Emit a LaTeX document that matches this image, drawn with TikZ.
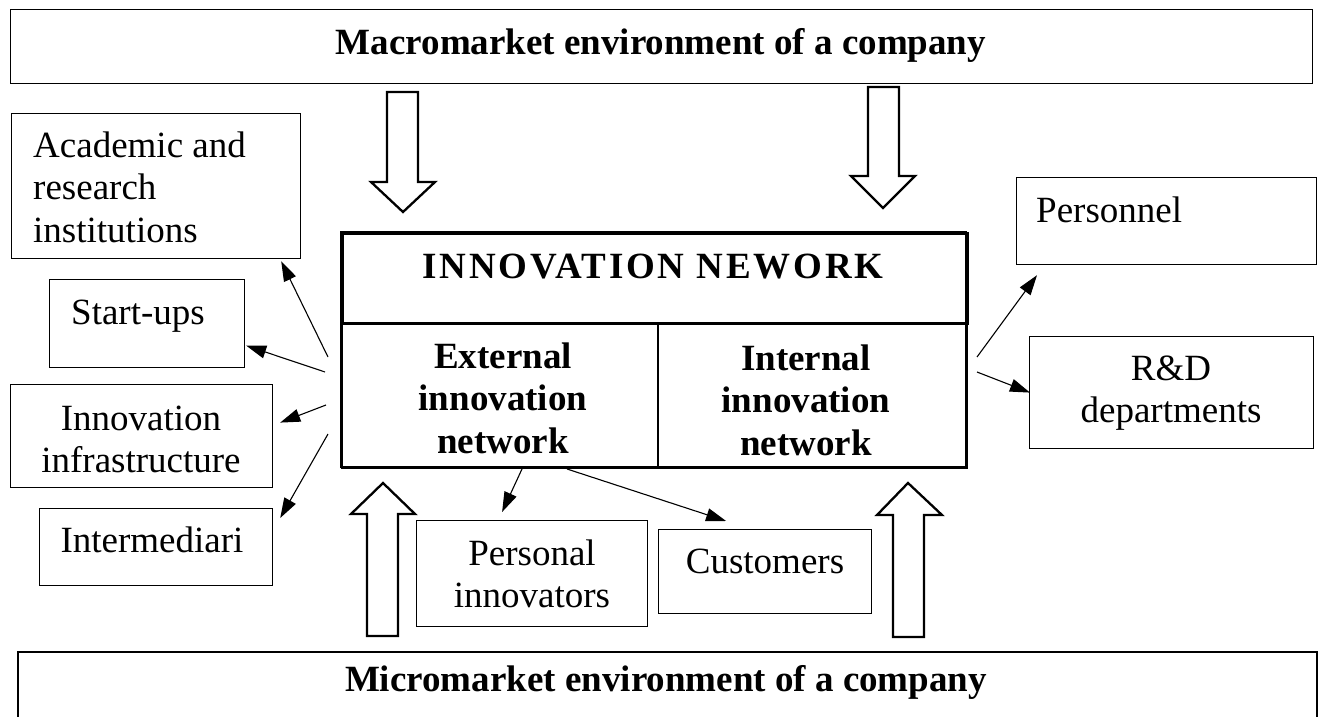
\documentclass[tikz,border=0pt]{standalone}
\usepackage{fontspec}
\setmainfont{Liberation Serif}
\usetikzlibrary{arrows.meta}
\begin{document}
\begin{tikzpicture}[x=1pt,y=-1pt,
  box/.style={draw, line width=1.2pt, inner sep=0pt, anchor=north west},
  thickbox/.style={draw, line width=2.6pt, inner sep=0pt, anchor=north west},
  txt/.style={inner sep=0pt, anchor=base, font=\fontsize{37}{42.5}\selectfont},
  txtl/.style={txt, anchor=base west},
  bold/.style={font=\fontsize{37}{42.5}\selectfont\bfseries},
  conn/.style={line width=1.1pt, -{Triangle[length=20pt,width=13pt]}},
  blockarrow/.style={draw, line width=2.3pt, line join=miter, fill=white}
]
\useasboundingbox (0,0) rectangle (1322,717);

% environment boxes
\node[box, minimum width=1302pt, minimum height=74pt] (macro) at (10,9) {};
\node[txt, bold] (macrot) at (661,55) {Macromarket environment of a company};
\draw[line width=1.2pt] (18,719) -- (18,652) -- (1317,652) -- (1317,719);
\node[txt, bold] (microt) at (666,691) {Micromarket environment of a company};

% block arrows
\draw[blockarrow] (387,92) -- (418,92) -- (418,182) -- (435,182) -- (403,212) -- (371,182) -- (387,182) -- cycle;
\draw[blockarrow] (868,87) -- (899,87) -- (899,176) -- (915,176) -- (883,208) -- (851,176) -- (868,176) -- cycle;
\draw[blockarrow] (367,636) -- (398,636) -- (398,514) -- (415,514) -- (383,483) -- (351,514) -- (367,514) -- cycle;
\draw[blockarrow] (893,637) -- (924,637) -- (924,515) -- (942,515) -- (908,483) -- (877,515) -- (893,515) -- cycle;

% innovation network
\node[thickbox, minimum width=625pt, minimum height=90pt] (net) at (341,232) {};
\node[thickbox, line width=2pt, minimum width=316pt, minimum height=145pt] (ext) at (341,322) {};
\node[thickbox, line width=2pt, minimum width=309pt, minimum height=145pt] (intn) at (657,322) {};
\draw[line width=2.6pt] (341,232) rectangle (966,467);
\node[txt, bold] (nett) at (653,278) {\addfontfeature{LetterSpace=7.5}INNOVATION NEWORK};
\node[txt, bold] (extt) at (503,368) {\begin{tabular}[t]{@{}c@{}}External\\innovation\\network\end{tabular}};
\node[txt, bold] (intt) at (806,370) {\begin{tabular}[t]{@{}c@{}}Internal\\innovation\\network\end{tabular}};

% left boxes
\node[box, minimum width=289pt, minimum height=145pt] (acad) at (11,113) {};
\node[txtl] (acadt) at (33,157) {\begin{tabular}[t]{@{}l@{}}Academic and\\research\\institutions\end{tabular}};
\node[box, minimum width=195pt, minimum height=88pt] (su) at (49,279) {};
\node[txtl] (sut) at (71,324) {Start-ups};
\node[box, minimum width=262pt, minimum height=103pt] (infra) at (10,384) {};
\node[txt] (infrat) at (141,430) {\begin{tabular}[t]{@{}c@{}}Innovation\\infrastructure\end{tabular}};
\node[box, minimum width=233pt, minimum height=77pt] (interm) at (39,508) {};
\node[txt] (intermt) at (152,552) {Intermediari};

% right boxes
\node[box, minimum width=300pt, minimum height=87pt] (pers) at (1016,177) {};
\node[txtl] (perst) at (1036,222) {Personnel};
\node[box, minimum width=284pt, minimum height=112pt] (rd) at (1029,336) {};
\node[txt] (rdt) at (1171,380) {\begin{tabular}[t]{@{}c@{}}R\&D\\departments\end{tabular}};

% bottom boxes
\node[box, minimum width=231pt, minimum height=106pt] (pi) at (416,520) {};
\node[txt] (pit) at (532,565) {\begin{tabular}[t]{@{}c@{}}Personal\\innovators\end{tabular}};
\node[box, minimum width=213pt, minimum height=84pt] (cust) at (658,529) {};
\node[txt] (custt) at (765,573) {Customers};

% connector start points
\coordinate (s1) at ([xshift=-13pt,yshift=38.5pt]ext.west);
\coordinate (s2) at ([xshift=-16pt,yshift=23.5pt]ext.west);
\coordinate (s3) at ([xshift=-15pt,yshift=-9.5pt]ext.west);
\coordinate (s4) at ([xshift=-13pt,yshift=-38.5pt]ext.west);
\coordinate (s5) at ([xshift=9pt,yshift=38.5pt]intn.east);
\coordinate (s6) at ([xshift=9pt,yshift=23.5pt]intn.east);
\coordinate (s7) at ([xshift=22pt]ext.south);
\coordinate (s8) at ([xshift=67pt]ext.south);

\draw[conn] (s1) -- ([xshift=-20pt,yshift=-2pt]acad.south east);
\draw[conn] (s2) -- ([xshift=1pt,yshift=-22pt]su.east);
\draw[conn] (s3) -- ([xshift=7pt,yshift=13.5pt]infra.east);
\draw[conn] (s4) -- ([xshift=7pt,yshift=-10pt]interm.north east);
\draw[conn] (s5) -- ([xshift=21pt,yshift=-10pt]pers.south west);
\draw[conn] (s6) -- ([xshift=1pt]rd.west);
\draw[conn] (s7) -- ([xshift=-30pt,yshift=8pt]pi.north);
\draw[conn] (s8) -- ([xshift=-39pt,yshift=8pt]cust.north);
\end{tikzpicture}
\end{document}
